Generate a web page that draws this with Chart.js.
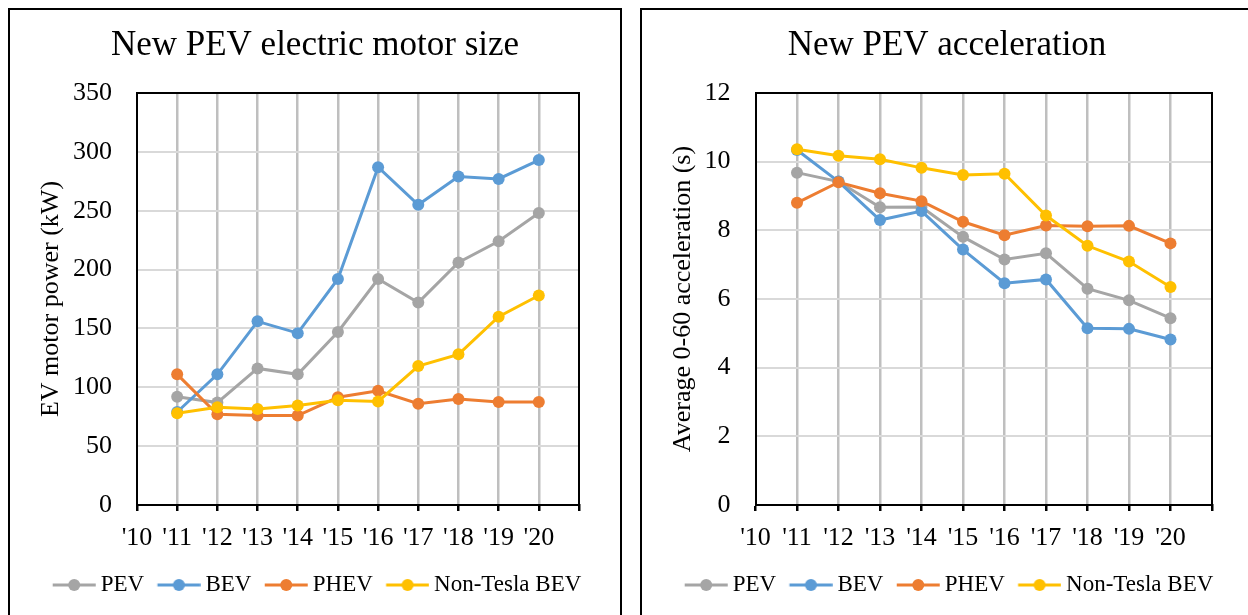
<!DOCTYPE html>
<html>
<head>
<meta charset="utf-8">
<script src="https://cdn.jsdelivr.net/npm/chart.js@4"></script>
<style>
  html, body { margin: 0; padding: 0; background: #fff; overflow: hidden; }
  body { width: 1248px; height: 615px; position: relative; }
  .box { position: absolute; top: 8px; width: 610px; height: 620px; border: 2px solid #000; }
  #boxLeft { left: 8px; }
  #boxRight { left: 640px; }
  canvas { display: block; }
</style>
</head>
<body>
<div class="box" id="boxLeft"><canvas id="motorChart" width="610" height="610"></canvas></div>
<div class="box" id="boxRight"><canvas id="accelChart" width="610" height="610"></canvas></div>
<script>
// model years on the x axis
const years = [2011, 2012, 2013, 2014, 2015, 2016, 2017, 2018, 2019, 2020];
const seriesNames = ["PEV", "BEV", "PHEV", "Non-Tesla BEV"];
const seriesColors = ["#a5a5a5", "#5b9bd5", "#ed7d31", "#ffc000"];

// electric motor power (kW)
const motorPEV = [92, 87, 116, 111, 147, 192, 172, 206, 224, 248];
const motorBEV = [79, 111, 156, 146, 192, 287, 255, 279, 277, 293];
const motorPHEV = [111, 77, 76, 76, 91.5, 97, 86, 90, 87.5, 87.5];
const motorNonTesla = [78, 83, 81.5, 84.5, 89, 88, 118, 128, 160, 178];
const motorTicks = { min: 0, max: 350, step: 50 };

// average 0-60 acceleration (s)
const accelPEV = [9.68, 9.42, 8.67, 8.68, 7.81, 7.15, 7.33, 6.30, 5.96, 5.44];
const accelBEV = [10.34, 9.42, 8.30, 8.56, 7.44, 6.46, 6.57, 5.15, 5.13, 4.82];
const accelPHEV = [8.80, 9.40, 9.08, 8.85, 8.25, 7.86, 8.14, 8.12, 8.13, 7.62];
const accelNonTesla = [10.36, 10.17, 10.07, 9.82, 9.61, 9.65, 8.43, 7.55, 7.09, 6.35];
const accelTicks = { min: 0, max: 12, step: 2 };

const FONT = "'Liberation Serif', 'Times New Roman', serif";

// legend swatch: short line with a marker in the middle
function legendIcon(color) {
  const c = document.createElement("canvas");
  c.width = 54;
  c.height = 14;
  const g = c.getContext("2d");
  g.strokeStyle = color;
  g.lineWidth = 3;
  g.beginPath();
  g.moveTo(10.75, 7);
  g.lineTo(53.75, 7);
  g.stroke();
  g.fillStyle = color;
  g.beginPath();
  g.arc(32.25, 7, 6, 0, Math.PI * 2);
  g.fill();
  return c;
}

// top and right edges of the plot frame
const frameLines = {
  id: "frameLines",
  beforeDatasetsDraw(chart) {
    const a = chart.chartArea;
    const ctx = chart.ctx;
    ctx.save();
    ctx.strokeStyle = "#000";
    ctx.lineWidth = 2;
    ctx.beginPath();
    ctx.moveTo(a.left, a.top);
    ctx.lineTo(a.right, a.top);
    ctx.lineTo(a.right, a.bottom);
    ctx.stroke();
    ctx.restore();
  }
};

function makeDatasets(seriesList) {
  return seriesList.map((values, i) => ({
    label: seriesNames[i],
    data: values.map((v, j) => ({ x: years[j], y: v })),
    borderColor: seriesColors[i],
    backgroundColor: seriesColors[i],
    pointBackgroundColor: seriesColors[i],
    pointBorderColor: seriesColors[i],
    pointRadius: 6,
    pointBorderWidth: 0,
    borderWidth: 3,
    tension: 0,
    order: seriesList.length - 1 - i
  }));
}

function makeChart(canvasId, title, yTitle, seriesList, yTicks, yWidth, rightPad) {
  const ctx = document.getElementById(canvasId).getContext("2d");
  return new Chart(ctx, {
    type: "line",
    data: { datasets: makeDatasets(seriesList) },
    plugins: [frameLines],
    options: {
      responsive: false,
      animation: false,
      layout: { padding: { left: 0, right: 0, top: 0, bottom: 13.5 } },
      scales: {
        x: {
          type: "linear",
          min: 2010,
          max: 2021,
          afterFit: function (s) { s.height = 59.2; },
          ticks: {
            stepSize: 1,
            autoSkip: false,
            maxRotation: 0,
            padding: 12,
            color: "#000",
            font: { family: FONT, size: 26 },
            callback: function (v) {
              if (v === 2021) return "";
              return "'" + String(v).slice(2);
            }
          },
          grid: {
            color: function (c) {
              const v = c.tick ? c.tick.value : null;
              return (v === 2010 || v === 2021) ? "rgba(0,0,0,0)" : "#bfbfbf";
            },
            lineWidth: 2.5,
            tickColor: "#000",
            tickLength: 6,
            drawTicks: true
          },
          border: { color: "#000", width: 2 }
        },
        y: {
          type: "linear",
          min: yTicks.min,
          max: yTicks.max,
          afterFit: function (s) { s.width = yWidth; },
          ticks: {
            stepSize: yTicks.step,
            padding: 25,
            color: "#000",
            font: { family: FONT, size: 26 }
          },
          grid: { color: "#d9d9d9", lineWidth: 2, drawTicks: false },
          border: { color: "#000", width: 2 },
          title: {
            display: true,
            text: yTitle,
            color: "#000",
            font: { family: FONT, size: 26 },
            padding: { top: 26, bottom: 0 }
          }
        },
        pad: {
          type: "linear",
          position: "right",
          display: true,
          afterFit: function (s) { s.width = rightPad; },
          ticks: { display: false },
          grid: { display: false, drawTicks: false },
          border: { display: false }
        }
      },
      plugins: {
        title: {
          display: true,
          text: title,
          color: "#000",
          font: { family: FONT, size: 35, weight: "normal" },
          padding: { top: 15, bottom: 26 }
        },
        legend: {
          position: "bottom",
          labels: {
            usePointStyle: true,
            pointStyleWidth: 40.5,
            padding: 9.3,
            color: "#000",
            font: { family: FONT, size: 23 },
            generateLabels: function (chart) {
              return chart.data.datasets.map((ds, i) => ({
                text: ds.label,
                pointStyle: legendIcon(ds.borderColor),
                fillStyle: ds.borderColor,
                strokeStyle: ds.borderColor,
                lineWidth: 0,
                hidden: false,
                datasetIndex: i,
                fontColor: "#000"
              }));
            }
          }
        },
        tooltip: { enabled: false }
      }
    }
  });
}

makeChart("motorChart", "New PEV electric motor size", "EV motor power (kW)",
  [motorPEV, motorBEV, motorPHEV, motorNonTesla], motorTicks, 127, 41);
makeChart("accelChart", "New PEV acceleration", "Average 0-60 acceleration (s)",
  [accelPEV, accelBEV, accelPHEV, accelNonTesla], accelTicks, 113.5, 40);
</script>
</body>
</html>
